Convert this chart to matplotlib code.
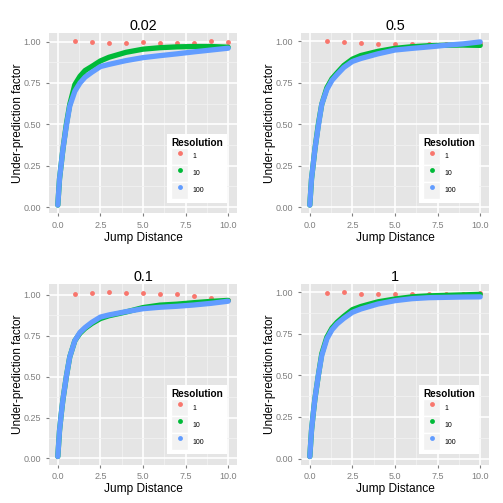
"""
Under-prediction factor versus jump distance, four panels (ggplot-like look).
"""

import matplotlib
matplotlib.use('Agg')
import matplotlib.pyplot as plt
from matplotlib.lines import Line2D
from matplotlib.patches import Rectangle

plt.rcParams['font.family'] = ['Liberation Sans', 'DejaVu Sans']

# panel titles, in drawing order (top-left, top-right, bottom-left, bottom-right)
titles = ['0.02', '0.5', '0.1', '1']
resolutions = ['1', '10', '100']

# resolution 1: one point per unit of distance
red_x = [1, 2, 3, 4, 5, 6, 7, 8, 9, 10]
# resolutions 10 and 100 are dense point trails, read at these distances
curve_x = [0, 0.1, 0.2, 0.3, 0.5, 0.7, 1.0, 1.3, 1.6, 2.0, 2.5, 3, 4, 5, 6, 7, 8, 9, 10]

red_002 = [1.004, 0.997, 0.990, 0.990, 0.995, 0.994, 0.991, 0.991, 1.002, 0.997]
green_002 = [0.012, 0.17, 0.26, 0.35, 0.50, 0.62, 0.74, 0.79, 0.825, 0.85, 0.883,
             0.905, 0.935, 0.954, 0.963, 0.968, 0.970, 0.970, 0.966]
blue_002 = [0.012, 0.17, 0.26, 0.35, 0.49, 0.61, 0.70, 0.75, 0.785, 0.815, 0.849,
            0.862, 0.885, 0.903, 0.915, 0.926, 0.938, 0.949, 0.960]

red_05 = [1.003, 0.995, 0.988, 0.985, 0.983, 0.983, 0.985, 0.987, 0.985, 0.990]
green_05 = [0.012, 0.17, 0.26, 0.35, 0.50, 0.62, 0.72, 0.775, 0.81, 0.855, 0.893,
            0.915, 0.940, 0.958, 0.968, 0.974, 0.977, 0.978, 0.976]
blue_05 = [0.012, 0.17, 0.26, 0.35, 0.49, 0.62, 0.71, 0.765, 0.80, 0.843, 0.879,
           0.897, 0.925, 0.948, 0.958, 0.967, 0.977, 0.985, 0.997]

red_01 = [1.002, 1.010, 1.015, 1.010, 1.009, 1.003, 1.003, 0.993, 0.979, 0.971]
green_01 = [0.012, 0.17, 0.27, 0.36, 0.50, 0.62, 0.72, 0.765, 0.795, 0.825, 0.855,
            0.872, 0.895, 0.922, 0.937, 0.943, 0.952, 0.960, 0.966]
blue_01 = [0.012, 0.17, 0.27, 0.36, 0.50, 0.62, 0.72, 0.77, 0.80, 0.832, 0.864,
           0.877, 0.897, 0.915, 0.924, 0.930, 0.938, 0.948, 0.961]

red_1 = [0.994, 1.000, 0.990, 0.990, 0.988, 0.988, 0.988, 0.988, 0.992, 0.996]
green_1 = [0.012, 0.17, 0.27, 0.36, 0.50, 0.63, 0.73, 0.785, 0.82, 0.856, 0.896,
           0.915, 0.943, 0.960, 0.973, 0.979, 0.982, 0.985, 0.988]
blue_1 = [0.012, 0.17, 0.27, 0.36, 0.50, 0.62, 0.72, 0.775, 0.81, 0.844, 0.880,
          0.900, 0.930, 0.950, 0.962, 0.968, 0.970, 0.972, 0.973]

panels = [
    (red_002, green_002, blue_002),
    (red_05, green_05, blue_05),
    (red_01, green_01, blue_01),
    (red_1, green_1, blue_1),
]

# ggplot hue palette and old theme_grey colours
RED, GREEN, BLUE = '#F8766D', '#00BA38', '#619CFF'
BG, MINOR = '#E5E5E5', '#F2F2F2'
GREY_TEXT = '#7F7F7F'

# axes positions in figure fraction (left, bottom, width, height)
posicoes = [
    (0.098, 0.576, 0.3726, 0.359),
    (0.599, 0.576, 0.3726, 0.359),
    (0.098, 0.0761, 0.3726, 0.359),
    (0.599, 0.0761, 0.3726, 0.359),
]

fig = plt.figure(figsize=(5.03, 5.03), dpi=100)

for titulo, (red, green, blue), pos in zip(titles, panels, posicoes):
    ax = fig.add_axes(pos)
    ax.set_facecolor(BG)
    for s in ax.spines.values():
        s.set_visible(False)

    # points / dense trails
    ax.plot(red_x, red, ls='none', marker='o', ms=3.5, color=RED, mec='none', zorder=3)
    ax.plot(curve_x, green, color=GREEN, lw=3.8, solid_capstyle='round', zorder=4)
    ax.plot(curve_x, blue, color=BLUE, lw=3.8, solid_capstyle='round', zorder=5)

    # scales with ggplot's 5% expansion
    todos = red + green + blue
    lo, hi = min(todos), max(todos)
    span = hi - lo
    ax.set_ylim(lo - 0.05 * span, hi + 0.05 * span)
    ax.set_xlim(-0.5, 10.5)

    ax.set_xticks([0, 2.5, 5, 7.5, 10])
    ax.set_xticklabels(['0.0', '2.5', '5.0', '7.5', '10.0'])
    ax.set_yticks([0, 0.25, 0.5, 0.75, 1.0])
    ax.set_yticklabels(['0.00', '0.25', '0.50', '0.75', '1.00'])
    ax.set_xticks([1.25, 3.75, 6.25, 8.75], minor=True)
    ax.set_yticks([0.125, 0.375, 0.625, 0.875], minor=True)

    ax.grid(which='major', color='white', lw=1.2)
    ax.grid(which='minor', color=MINOR, lw=0.6)
    ax.set_axisbelow(True)

    ax.tick_params(which='major', length=2.5, width=0.8, color=GREY_TEXT,
                   labelcolor=GREY_TEXT, labelsize=6.5)
    ax.tick_params(axis='x', which='major', pad=2.8)
    ax.tick_params(axis='y', which='major', pad=3.6)
    ax.tick_params(which='minor', length=0)

    ax.set_title(titulo, fontsize=10.4, pad=1.5)
    ax.set_xlabel('Jump Distance', fontsize=8.6)
    ax.set_ylabel('Under-prediction factor', fontsize=8.5)
    ax.xaxis.set_label_coords(0.5, -0.103)
    ax.yaxis.set_label_coords(-0.137, 0.5)

    # legend: grey key boxes with a point in each
    handles = []
    for c in [RED, GREEN, BLUE]:
        caixa = Rectangle((0, 0), 1, 1, fc=MINOR, ec='white', lw=1)
        ponto = Line2D([], [], ls='none', marker='o', ms=3.5, color=c, mec='none')
        handles.append((caixa, ponto))
    leg = ax.legend(handles, resolutions, title='Resolution',
                    loc='lower right', bbox_to_anchor=(0.948, 0.057), borderaxespad=0,
                    frameon=True, fancybox=False, facecolor='white', framealpha=1,
                    prop={'size': 5}, title_fontproperties={'size': 7.2, 'weight': 'bold'},
                    alignment='left', handlelength=2.45, handleheight=3.39,
                    labelspacing=0, handletextpad=0.6, borderpad=0.6)
    leg.get_frame().set_linewidth(0)
    leg.set_zorder(10)

fig.savefig('out.png', dpi=100)
plt.close(fig)
